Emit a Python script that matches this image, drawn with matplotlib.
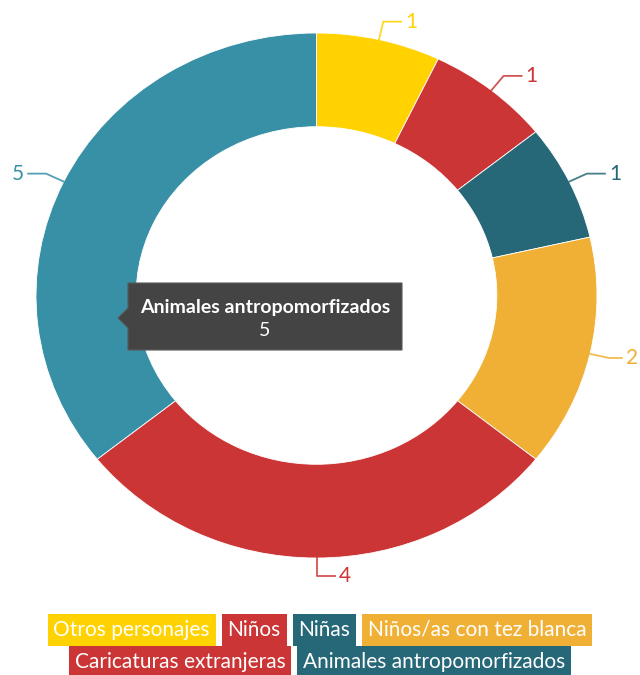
import numpy as np
import matplotlib.pyplot as plt
from matplotlib.patches import Polygon

categories = ['Otros personajes', 'Niños', 'Niñas', 'Niños/as con tez blanca',
              'Caricaturas extranjeras', 'Animales antropomorfizados']
values = [1, 1, 1, 2, 4, 5]
slice_colors = ['#FFD200', '#CC3535', '#276878', '#F0B035', '#CC3535', '#3890A6']
legend_colors = ['#FFD200', '#CC3535', '#276878', '#F0B035', '#CC3535', '#276878']
tooltip_idx = 5

plt.rcParams['font.family'] = ['Lato', 'DejaVu Sans']

W, H = 640, 675
fig = plt.figure(figsize=(W / 100, H / 100), dpi=100)

# pie axes sized to the (slightly elliptical) donut bounding box
left, right, top, bottom = 36, 597, 33, 558
ax = fig.add_axes([left / W, (H - bottom) / H, (right - left) / W, (bottom - top) / H])
ax.pie(values, colors=slice_colors, startangle=90, counterclock=False,
       wedgeprops=dict(width=0.357, edgecolor='white', linewidth=0.6))
ax.set_aspect('auto')
ax.set_xlim(-1, 1)
ax.set_ylim(-1, 1)

px_x = 2 / (right - left)
total = sum(values)
cum = 0
labels = []
for v, c in zip(values, slice_colors):
    ang = np.radians(90 - 360 * (cum + v / 2) / total)
    cum += v
    cx, cy = np.cos(ang), np.sin(ang)
    side = 1 if cx >= -1e-9 else -1
    ex, ey = 1.07 * cx, 1.07 * cy
    hx = ex + side * 18 * px_x
    ln, = ax.plot([cx, ex, hx], [cy, ey, ey], color=c, lw=1.3, alpha=0.85, clip_on=False)
    t = ax.text(hx + side * 4 * px_x, ey, str(v), color=c, fontsize=15,
                ha='left' if side > 0 else 'right', va='center', clip_on=False)
    labels.append((ln, t, side))

# overlay in pixel coordinates for tooltip and legend
ov = fig.add_axes([0, 0, 1, 1])
ov.set_xlim(0, W)
ov.set_ylim(H, 0)
ov.axis('off')

tip = Polygon([(128, 283), (402, 283), (402, 350), (128, 350), (128, 328), (118, 318), (128, 308)],
              closed=True, fc='#444444', ec='#5a5a5a', lw=0.8)
ov.add_patch(tip)
ov.text(265, 307, categories[tooltip_idx], color='white', fontsize=14, fontweight='bold',
        ha='center', va='center')
ov.text(265, 330, str(values[tooltip_idx]), color='white', fontsize=14, ha='center', va='center')

fig.canvas.draw()
r = fig.canvas.get_renderer()

# keep value labels inside the picture
for ln, t, side in labels:
    bb = t.get_window_extent(r)
    over = bb.x1 - (W - 2)
    if side > 0 and over > 0:
        xs = ln.get_xdata()
        xs[2] -= over * px_x
        ln.set_xdata(xs)
        t.set_x(t.get_position()[0] - over * px_x)

gap = 6
for row, yc in zip([[0, 1, 2, 3], [4, 5]], [630, 662]):
    items = [ov.text(0, yc, categories[i], color='white', fontsize=15, va='center', ha='left',
                     bbox=dict(boxstyle='square,pad=0.28', fc=legend_colors[i], ec='none'))
             for i in row]
    fig.canvas.draw()
    widths = [t.get_bbox_patch().get_window_extent(r).width for t in items]
    tw = [t.get_window_extent(r).width for t in items]
    start = W / 2 - (sum(widths) + gap * (len(items) - 1)) / 2
    for t, w, w2 in zip(items, widths, tw):
        t.set_x(start + (w - w2) / 2)
        start += w + gap

fig.savefig('out.png', dpi=100)
